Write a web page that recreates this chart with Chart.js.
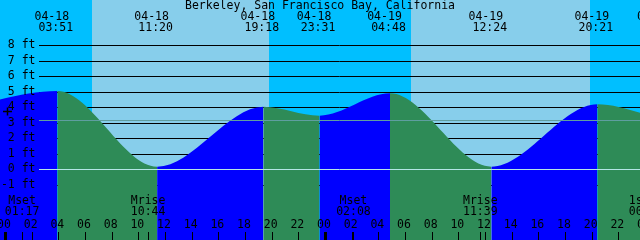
<!DOCTYPE html>
<html><head><meta charset="utf-8">
<script src="https://cdn.jsdelivr.net/npm/chart.js@4.4.0/dist/chart.umd.min.js"></script>
<style>html,body{margin:0;padding:0;background:#00BFFF;overflow:hidden}canvas{display:block}</style>
</head><body>
<canvas id="c" width="640" height="240"></canvas>
<script>
// ---- data (hours from 04-18 00:00, feet) ----
const title = "Berkeley, San Francisco Bay, California";
// tide extremes (first and last are the off-picture neighbours, estimated)
const tideHours = [-5.0, 3.85, 11.333, 19.3, 23.517, 28.8, 36.4, 44.35, 49.04];
const tideFeet  = [3.5, 5.05, 0.17, 4.04, 3.46, 4.9, 0.17, 4.2, 3.3];
const extremeHours = [3.85, 11.333, 19.3, 23.517, 28.8, 36.4, 44.35, 49.04];
const extremeDates = ["04-18","04-18","04-18","04-18","04-19","04-19","04-19","04-20"];
const extremeTimes = ["03:51","11:20","19:18","23:31","04:48","12:24","20:21","01:02"];
const sunHours = [6.45, 19.73, 30.38, 43.8]; // sunrise, sunset, sunrise, sunset
const moonHours = [1.283, 10.733, 26.133, 35.65, 48.08];
const moonNames = ["Mset","Mrise","Mset","Mrise","1st Q"];
const moonTimes = ["01:17","10:44","02:08","11:39","00:05"];
const levelTicks = [8, 7, 6, 5, 4, 3, 2, 1, 0, -1];
const levelLabels = ["8 ft","7 ft","6 ft","5 ft","4 ft","3 ft","2 ft","1 ft","0 ft","-1 ft"];
const meanLevel = 3.16;
const hourTicks = [0,2,4,6,8,10,12,14,16,18,20,22,24,26,28,30,32,34,36,38,40,42,44,46,48];
const hourLabels = ["00","02","04","06","08","10","12","14","16","18","20","22","00","02","04","06","08","10","12","14","16","18","20","22","00"];

// ---- styles ----
const DAY = "#87CEEB", NIGHT = "#00BFFF", GREEN = "#2E8B57", BLUE = "#0000FF";
const FONT = '11.5px "DejaVu Sans Mono", monospace';

const deco = {
  id: 'deco',
  beforeDraw(chart) {
    const {ctx, scales: {x, y}} = chart;
    const W = chart.width, H = chart.height;
    ctx.save();
    ctx.fillStyle = NIGHT; ctx.fillRect(0, 0, W, H);
    ctx.fillStyle = DAY;
    for (let i = 0; i < sunHours.length; i += 2) {
      const x0 = Math.round(x.getPixelForValue(sunHours[i]));
      const x1 = Math.round(x.getPixelForValue(sunHours[i + 1]));
      ctx.fillRect(x0, 0, x1 - x0, H);
    }
    ctx.strokeStyle = "#000"; ctx.lineWidth = 1;
    for (const v of levelTicks) {
      if (v === 0) continue;
      const py = Math.round(y.getPixelForValue(v)) + 0.5;
      ctx.beginPath(); ctx.moveTo(39, py); ctx.lineTo(W, py); ctx.stroke();
    }
    ctx.restore();
  },
  afterDatasetsDraw(chart) {
    const {ctx, scales: {x, y}} = chart;
    const W = chart.width, H = chart.height;
    ctx.save();
    // mean line and zero line over the fill
    let py = Math.round(y.getPixelForValue(meanLevel)) + 0.5;
    ctx.strokeStyle = "#5F9EA0"; ctx.lineWidth = 1;
    ctx.beginPath(); ctx.moveTo(39, py); ctx.lineTo(W, py); ctx.stroke();
    py = Math.round(y.getPixelForValue(0)) + 0.5;
    ctx.strokeStyle = "#B4E6E6";
    ctx.beginPath(); ctx.moveTo(39, py); ctx.lineTo(W, py); ctx.stroke();

    ctx.fillStyle = "#000"; ctx.font = FONT; ctx.textBaseline = "middle";
    // title
    ctx.textAlign = "center";
    ctx.fillText(title, 320, 6);
    // extremes
    extremeHours.forEach((h, i) => {
      const px = x.getPixelForValue(h);
      ctx.fillText(extremeDates[i], px - 5.5, 17.5);
      ctx.fillText(extremeTimes[i], px - 1.5, 28.5);
    });
    // level labels
    ctx.textAlign = "right";
    levelTicks.forEach((v, i) => {
      ctx.fillText(levelLabels[i], 35.5, y.getPixelForValue(v));
    });
    // moon events
    ctx.textAlign = "center";
    moonHours.forEach((h, i) => {
      const px = x.getPixelForValue(h);
      ctx.fillText(moonNames[i], px - 1, 201.5);
      ctx.fillText(moonTimes[i], px - 1, 212.5);
    });
    // hour labels and ticks
    hourTicks.forEach((h, i) => {
      const px = x.getPixelForValue(h);
      ctx.fillText(hourLabels[i], px - 2, 225.5);
      const mid = (h % 24 === 0);
      ctx.fillRect(Math.round(px) - (mid ? 2 : 1), 232, mid ? 3 : 1, H - 232);
    });
    moonHours.forEach(h => {
      const px = x.getPixelForValue(h);
      ctx.fillRect(Math.round(px) - 1, 232, 1, H - 232);
    });
    // plus marker
    ctx.strokeStyle = "#000"; ctx.lineWidth = 1.5;
    ctx.beginPath();
    ctx.moveTo(3, 111.5); ctx.lineTo(12, 111.5);
    ctx.moveTo(7.5, 107.5); ctx.lineTo(7.5, 115.5);
    ctx.stroke();
    ctx.restore();
  }
};

new Chart(document.getElementById('c'), {
  type: 'line',
  data: {
    datasets: [{
      data: tideHours.map((h, i) => ({x: h, y: tideFeet[i]})),
      fill: 'start',
      backgroundColor: GREEN,
      borderColor: 'rgba(0,0,0,0)',
      borderWidth: 0,
      pointRadius: 0,
      cubicInterpolationMode: 'monotone',
      segment: {
        backgroundColor: c => (c.p1.parsed.y >= c.p0.parsed.y ? BLUE : GREEN)
      }
    }]
  },
  options: {
    responsive: false,
    devicePixelRatio: 1,
    animation: false,
    layout: {padding: 0},
    plugins: {legend: {display: false}, tooltip: {enabled: false}},
    scales: {
      x: {type: 'linear', min: -0.45, max: 47.55, display: false},
      y: {type: 'linear', min: -4.56, max: 10.92, display: false}
    }
  },
  plugins: [deco]
});
</script>
</body></html>
